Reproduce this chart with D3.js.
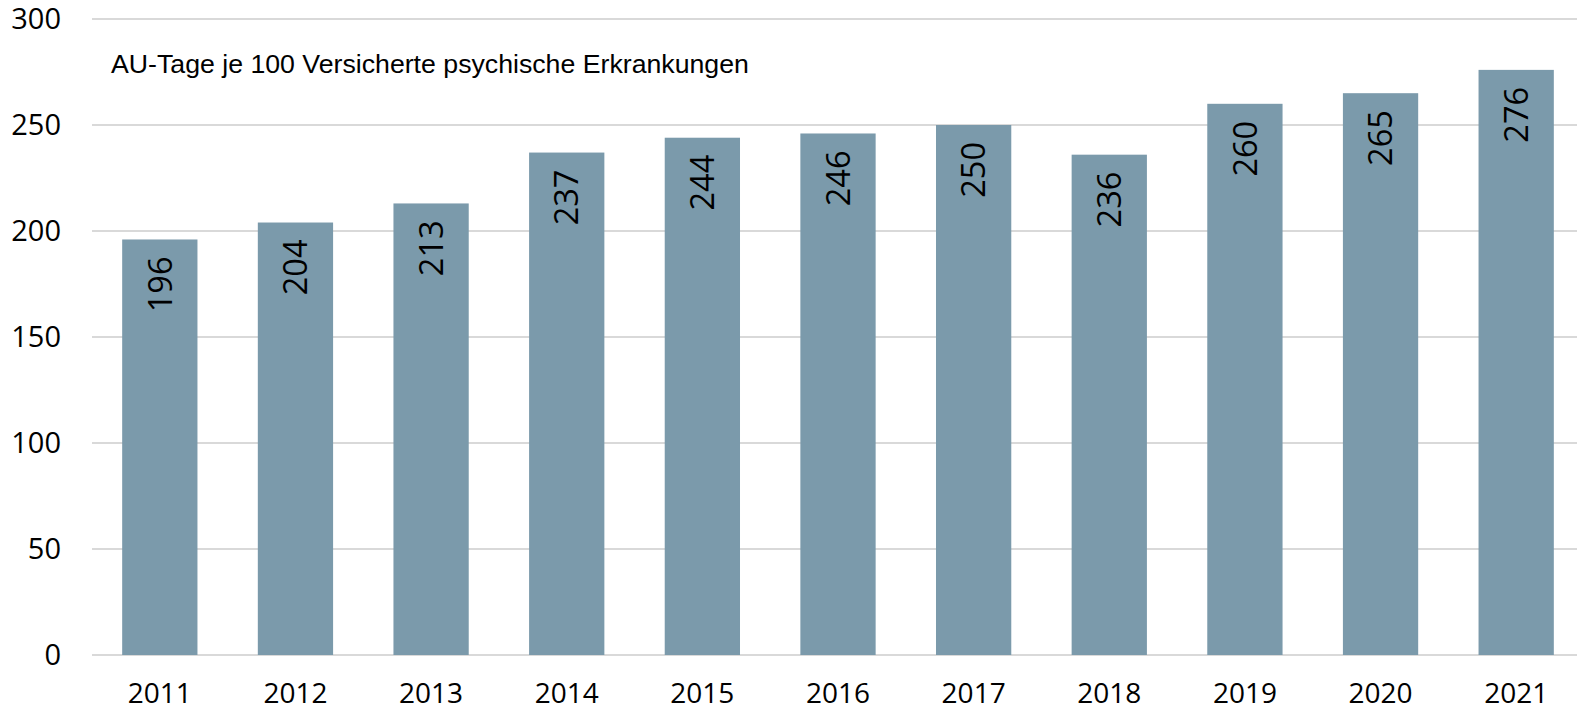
<!DOCTYPE html>
<html>
<head>
<meta charset="utf-8">
<script src="https://cdn.jsdelivr.net/npm/d3@7"></script>
<style>
  body { margin: 0; background: #fff; }
  svg { display: block; }
</style>
</head>
<body>
<svg class="bar_chart"></svg>
<script>
const years = ['2011', '2012', '2013', '2014', '2015', '2016', '2017', '2018', '2019', '2020', '2021'];
const values = [196, 204, 213, 237, 244, 246, 250, 236, 260, 265, 276];
const yTicks = [0, 50, 100, 150, 200, 250, 300];
const title = 'AU-Tage je 100 Versicherte psychische Erkrankungen';

const config = {
    svg: { width: 1577, height: 711 },
    plot: { left: 92, right: 1584, top: 19, bottom: 655 }
};

let svg = d3.select('.bar_chart')
    .attr('width', config.svg.width)
    .attr('height', config.svg.height);

let x = d3.scaleBand()
    .domain(years)
    .range([config.plot.left, config.plot.right])
    .paddingInner(0.445)
    .paddingOuter(0.2225);

let y = d3.scaleLinear()
    .domain([0, 300])
    .range([config.plot.bottom, config.plot.top]);

// gridlines
svg.append('g')
    .selectAll('line')
    .data(yTicks)
    .enter().append('line')
    .attr('x1', config.plot.left)
    .attr('x2', config.svg.width)
    .attr('y1', d => y(d))
    .attr('y2', d => y(d))
    .style('stroke', '#d9d9d9')
    .style('stroke-width', 2);

// y tick labels
svg.append('g')
    .selectAll('text')
    .data(yTicks)
    .enter().append('text')
    .attr('x', 61)
    .attr('y', d => y(d))
    .attr('dy', '0.35em')
    .attr('text-anchor', 'end')
    .style('font-family', 'Open Sans')
    .style('font-size', '29px')
    .text(d => d);

// bars
svg.append('g')
    .selectAll('rect')
    .data(values)
    .enter().append('rect')
    .attr('x', (d, i) => x(years[i]))
    .attr('width', x.bandwidth())
    .attr('y', d => y(d))
    .attr('height', d => y(0) - y(d))
    .style('fill', '#7b9aab');

// value labels, rotated
svg.append('g')
    .selectAll('text')
    .data(values)
    .enter().append('text')
    .attr('transform', (d, i) => `translate(${x(years[i]) + x.bandwidth() / 2}, ${y(d) + 17}) rotate(-90)`)
    .attr('dy', '0.36em')
    .attr('text-anchor', 'end')
    .style('font-family', 'Open Sans')
    .style('font-size', '32.5px')
    .text(d => d);

// x labels
svg.append('g')
    .selectAll('text')
    .data(years)
    .enter().append('text')
    .attr('x', d => x(d) + x.bandwidth() / 2)
    .attr('y', 703)
    .attr('text-anchor', 'middle')
    .style('font-family', 'Open Sans')
    .style('font-size', '28px')
    .text(d => d);

// title
svg.append('text')
    .attr('x', 111)
    .attr('y', 73)
    .style('font-family', 'Liberation Sans, Arial')
    .style('font-size', '26.7px')
    .text(title);
</script>
</body>
</html>
